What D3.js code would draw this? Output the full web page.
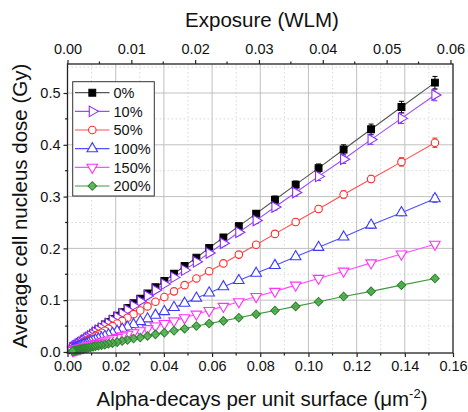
<!DOCTYPE html>
<html><head><meta charset="utf-8">
<script src="https://cdn.jsdelivr.net/npm/d3@7"></script>
<style>body{margin:0;background:#fff}svg{display:block}text{font-family:"Liberation Sans",Arial,sans-serif}</style>
</head><body>
<svg id="c" width="468" height="412"></svg>
<script>
// Alpha-decays per unit surface (µm^-2)
const alpha = [0.1525,0.1386,0.1260,0.1146,0.1042,0.0947,0.0861,0.0783,0.0711,0.0647,0.0588,0.0535,0.0486,0.0442,0.0402,0.0365,0.0332,0.0302,0.0274,0.0249,0.0227,0.0206,0.0187,0.0170,0.0155,0.0141,0.0128,0.0116,0.0106,0.0096,0.0087,0.0080,0.0072,0.0066,0.0060,0.0054,0.0049,0.0045,0.0041,0.0037,0.0034,0.0031,0.0028,0.0025,0.0023,0.0021];
const seriesNames = ["0%","10%","50%","100%","150%","200%"];
const dose0   = [0.520,0.473,0.430,0.391,0.355,0.323,0.294,0.267,0.243,0.221,0.201,0.182,0.166,0.151,0.137,0.125,0.113,0.103,0.094,0.085,0.077,0.070,0.064,0.058,0.053,0.048,0.044,0.040,0.036,0.033,0.030,0.027,0.025,0.022,0.020,0.019,0.017,0.015,0.014,0.013,0.012,0.011,0.010,0.009,0.008,0.007];
const dose10  = [0.496,0.451,0.410,0.372,0.339,0.308,0.280,0.254,0.231,0.210,0.191,0.174,0.158,0.144,0.131,0.119,0.108,0.098,0.089,0.081,0.074,0.067,0.061,0.055,0.050,0.046,0.042,0.038,0.034,0.031,0.028,0.026,0.023,0.021,0.019,0.018,0.016,0.015,0.013,0.012,0.011,0.010,0.009,0.008,0.007,0.007];
const dose50  = [0.404,0.367,0.334,0.304,0.276,0.251,0.228,0.207,0.188,0.171,0.156,0.142,0.129,0.117,0.106,0.097,0.088,0.080,0.073,0.066,0.060,0.055,0.050,0.045,0.041,0.037,0.034,0.031,0.028,0.025,0.023,0.021,0.019,0.017,0.016,0.014,0.013,0.012,0.011,0.010,0.009,0.008,0.007,0.007,0.006,0.006];
const dose100 = [0.296,0.269,0.245,0.222,0.202,0.184,0.167,0.152,0.138,0.126,0.114,0.104,0.094,0.086,0.078,0.071,0.064,0.059,0.053,0.048,0.044,0.040,0.036,0.033,0.030,0.027,0.025,0.023,0.021,0.019,0.017,0.015,0.014,0.013,0.012,0.011,0.010,0.009,0.008,0.007,0.007,0.006,0.005,0.005,0.004,0.004];
const dose150 = [0.208,0.189,0.172,0.156,0.142,0.129,0.117,0.107,0.097,0.088,0.080,0.073,0.066,0.060,0.055,0.050,0.045,0.041,0.037,0.034,0.031,0.028,0.026,0.023,0.021,0.019,0.017,0.016,0.014,0.013,0.012,0.011,0.010,0.009,0.008,0.007,0.007,0.006,0.006,0.005,0.005,0.004,0.004,0.003,0.003,0.003];
const dose200 = [0.142,0.129,0.117,0.107,0.097,0.088,0.080,0.073,0.066,0.060,0.055,0.050,0.045,0.041,0.037,0.034,0.031,0.028,0.026,0.023,0.021,0.019,0.017,0.016,0.014,0.013,0.012,0.011,0.010,0.009,0.008,0.007,0.007,0.006,0.006,0.005,0.005,0.004,0.004,0.003,0.003,0.003,0.003,0.002,0.002,0.002];
// error bars (± Gy) for the largest points
const err0   = [0.012,0.011,0.010,0.009,0.008,0.007,0.007,0.006,0.006,0.005,0.005,0.004];
const err10  = [0.011,0.010,0.009,0.008,0.008,0.007,0.006,0.006,0.005,0.005,0.004,0.004];
const err50  = [0.009,0.008,0.007,0.007,0.006,0.006,0.005,0.005,0.004,0.004,0.003,0.003];
const err100 = [0.007,0.006,0.006,0.005,0.005,0.004,0.004,0.003,0.003,0.003,0.003,0.002];
const err150 = [0.005,0.004,0.004,0.004,0.003,0.003,0.003,0.002,0.002,0.002,0.002,0.002];
const err200 = [0.003,0.003,0.003,0.002,0.002,0.002,0.002,0.002,0.001,0.001,0.001,0.001];
const xTicks = [0,0.02,0.04,0.06,0.08,0.10,0.12,0.14,0.16];
const yTicks = [0,0.1,0.2,0.3,0.4,0.5];
const topTicks = [0,0.01,0.02,0.03,0.04,0.05,0.06];
const topMax = 0.0604; // WLM at 0.16 µm^-2

const doses = [dose0,dose10,dose50,dose100,dose150,dose200];
const errs = [err0,err10,err50,err100,err150,err200];
const styles = [
  {line:"#555", stroke:"#000", fill:"#000", sym:d3.symbolSquare, size:46, rot:0},
  {line:"#9a4cff", stroke:"#8a2cff", fill:"#fff", sym:d3.symbolTriangle, size:48, rot:90},
  {line:"#ff5050", stroke:"#ff2a2a", fill:"#fff", sym:d3.symbolCircle, size:44, rot:0},
  {line:"#5050ff", stroke:"#3a3aff", fill:"#fff", sym:d3.symbolTriangle, size:48, rot:0},
  {line:"#ff50ff", stroke:"#ff30ff", fill:"#fff", sym:d3.symbolTriangle, size:48, rot:180},
  {line:"#3c9a3c", stroke:"#2f852f", fill:"#4fae4f", sym:d3.symbolSquare, size:36, rot:45}
];

const svg = d3.select("#c");
const L=67.5, R=453, T=64, B=353;
const x = d3.scaleLinear().domain([0,0.16]).range([L,R]);
const xt = d3.scaleLinear().domain([0,topMax]).range([L,R]);
const y = d3.scaleLinear().domain([-0.002,0.556]).range([B,T]);

// grid
const g = svg.append("g");
const minorX = d3.range(1,16,2).map(d=>d/100);
const minorY = [0.05,0.15,0.25,0.35,0.45,0.55];
g.selectAll(".mx").data(minorX).join("line").attr("x1",d=>x(d)).attr("x2",d=>x(d)).attr("y1",T).attr("y2",B)
  .attr("stroke","#d8d8d8").attr("stroke-dasharray","1.5,2.5");
g.selectAll(".my").data(minorY).join("line").attr("y1",d=>y(d)).attr("y2",d=>y(d)).attr("x1",L).attr("x2",R)
  .attr("stroke","#d8d8d8").attr("stroke-dasharray","1.5,2.5");
g.selectAll(".gx").data(xTicks.slice(1,-1)).join("line").attr("x1",d=>x(d)).attr("x2",d=>x(d)).attr("y1",T).attr("y2",B)
  .attr("stroke","#c0c0c0").attr("stroke-width",1);
g.selectAll(".gy").data(yTicks.slice(1)).join("line").attr("y1",d=>y(d)).attr("y2",d=>y(d)).attr("x1",L).attr("x2",R)
  .attr("stroke","#c0c0c0").attr("stroke-width",1);

// series
const line = d3.line().x((d,i)=>x(alpha[i])).y(d=>y(d));
doses.forEach((ds,s)=>{
  const st = styles[s];
  const sg = svg.append("g");
  sg.append("path").attr("d",line(ds)).attr("fill","none").attr("stroke",st.line).attr("stroke-width",1.1);
  errs[s].forEach((e,i)=>{
    const cx = x(alpha[i]);
    sg.append("path").attr("d",`M${cx},${y(ds[i]-e)}V${y(ds[i]+e)}M${cx-2.5},${y(ds[i]+e)}H${cx+2.5}M${cx-2.5},${y(ds[i]-e)}H${cx+2.5}`)
      .attr("stroke",st.stroke).attr("stroke-width",1).attr("fill","none");
  });
  const sym = d3.symbol().type(st.sym).size(st.size);
  sg.selectAll("path.m").data(ds).join("path").attr("class","m")
    .attr("d",sym).attr("transform",(d,i)=>`translate(${x(alpha[i])},${y(d)}) rotate(${st.rot})`)
    .attr("fill",st.fill).attr("stroke",st.stroke).attr("stroke-width",1.1)
    .attr("fill-opacity", s===5?0.85:1);
});

// axes
const fs = "14.5px";
const axB = svg.append("g").attr("transform",`translate(0,${B})`)
  .call(d3.axisBottom(x).tickValues(xTicks).tickFormat(d3.format(".2f")).tickSize(4).tickPadding(4));
const axT = svg.append("g").attr("transform",`translate(0,${T})`)
  .call(d3.axisTop(xt).tickValues(topTicks).tickFormat(d3.format(".2f")).tickSize(4).tickPadding(6));
const axL = svg.append("g").attr("transform",`translate(${L},0)`)
  .call(d3.axisLeft(y).tickValues(yTicks).tickFormat(d3.format(".1f")).tickSize(4).tickPadding(3));
[axB,axT,axL].forEach(a=>{
  a.select(".domain").remove();
  a.selectAll("text").attr("font-size",fs).attr("fill","#111").style("font-family",'"Liberation Sans",Arial,sans-serif');
  a.selectAll("line").attr("stroke","#222").attr("stroke-width",1.2);
});
// minor ticks
svg.append("g").selectAll("line").data(minorX).join("line").attr("x1",d=>x(d)).attr("x2",d=>x(d)).attr("y1",B).attr("y2",B+2.5).attr("stroke","#222").attr("stroke-width",1.2);
svg.append("g").selectAll("line").data([0.005,0.015,0.025,0.035,0.045,0.055]).join("line").attr("x1",d=>xt(d)).attr("x2",d=>xt(d)).attr("y1",T).attr("y2",T-2.5).attr("stroke","#222").attr("stroke-width",1.2);
svg.append("g").selectAll("line").data(minorY.slice(0,5)).join("line").attr("y1",d=>y(d)).attr("y2",d=>y(d)).attr("x1",L).attr("x2",L-2.5).attr("stroke","#222").attr("stroke-width",1.2);
// frame
svg.append("rect").attr("x",L).attr("y",T).attr("width",R-L).attr("height",B-T).attr("fill","none").attr("stroke","#222").attr("stroke-width",1.3);

// titles
const tf = "20.5px";
svg.append("text").attr("x",262).attr("y",27).attr("text-anchor","middle").attr("font-size",tf).attr("fill","#111").text("Exposure (WLM)");
const bt = svg.append("text").attr("x",262).attr("y",406).attr("text-anchor","middle").attr("font-size",tf).attr("fill","#111");
bt.append("tspan").text("Alpha-decays per unit surface (\u03bcm");
bt.append("tspan").attr("dy",-8).attr("font-size","13px").text("-2");
bt.append("tspan").attr("dy",8).text(")");
svg.append("text").attr("transform","translate(27,206) rotate(-90)").attr("text-anchor","middle").attr("font-size",tf).attr("fill","#111").text("Average cell nucleus dose (Gy)");

// legend
const lg = svg.append("g");
lg.append("rect").attr("x",72.7).attr("y",81.7).attr("width",81.6).attr("height",114.3).attr("fill","#fff").attr("stroke","#333").attr("stroke-width",1);
seriesNames.forEach((n,s)=>{
  const st = styles[s]; const cy = 92.7 + s*18.66;
  lg.append("line").attr("x1",75).attr("x2",109.5).attr("y1",cy).attr("y2",cy).attr("stroke",st.line).attr("stroke-width",1.2);
  lg.append("path").attr("d",d3.symbol().type(st.sym).size(st.size)()).attr("transform",`translate(92.3,${cy}) rotate(${st.rot})`)
    .attr("fill",st.fill).attr("stroke",st.stroke).attr("stroke-width",1.1).attr("fill-opacity", s===5?0.85:1);
  lg.append("text").attr("x",113.5).attr("y",cy+5.2).attr("font-size",fs).attr("fill","#111").text(n);
});
</script>
</body></html>
